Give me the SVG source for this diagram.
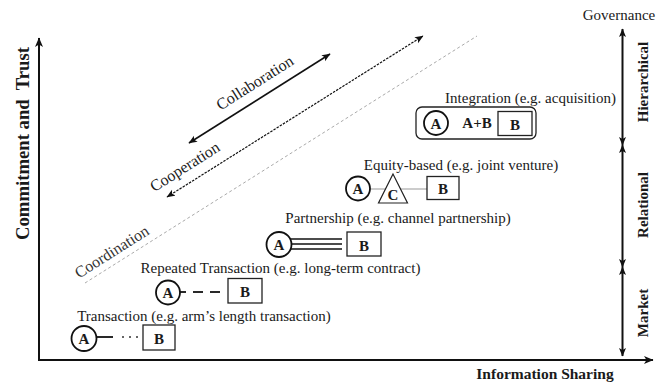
<svg xmlns="http://www.w3.org/2000/svg" width="669" height="385" viewBox="0 0 669 385">
<style>
text{font-family:"Liberation Serif","Times New Roman",serif;fill:#1a1a1a}
.lbl{font-size:15px;text-anchor:middle}
.diag{font-size:16px;text-anchor:middle}
.bold{font-weight:bold}
.ax{stroke:#111;stroke-width:2;fill:none}
.circ{fill:#fff;stroke:#111;stroke-width:1.8}
.box{fill:#fff;stroke:#222;stroke-width:1.3}
.ltr{font-size:15px;font-weight:bold;text-anchor:middle}
</style>
<defs>
<marker id="arr" markerWidth="10" markerHeight="10" refX="9" refY="4.5" orient="auto-start-reverse" markerUnits="userSpaceOnUse">
<path d="M0,0.5 L9.5,4.5 L0,8.5 L2.5,4.5 z" fill="#111"/>
</marker>
<marker id="arrs" markerWidth="9" markerHeight="9" refX="8" refY="4" orient="auto-start-reverse" markerUnits="userSpaceOnUse">
<path d="M0,0.5 L8.5,4 L0,7.5 L2,4 z" fill="#111"/>
</marker>
</defs>

<g id="axes">
<line class="ax" x1="39" y1="361" x2="39" y2="38" marker-end="url(#arr)"/>
<line class="ax" x1="38" y1="360" x2="653" y2="360" marker-end="url(#arr)"/>
<text class="bold" font-size="18" text-anchor="middle" textLength="193" lengthAdjust="spacingAndGlyphs" transform="translate(29,143.5) rotate(-90)" x="0" y="0" style="white-space:pre">Commitment and  Trust</text>
<text class="bold" font-size="15.5" text-anchor="middle" x="545" y="379">Information Sharing</text>
</g>

<g id="governance">
<text class="lbl" x="619" y="20">Governance</text>
<line class="ax" stroke-width="1.8" x1="622.5" y1="145" x2="622.5" y2="29" marker-start="url(#arrs)" marker-end="url(#arrs)"/>
<line class="ax" stroke-width="1.8" x1="622.5" y1="267" x2="622.5" y2="145" marker-start="url(#arrs)" marker-end="url(#arrs)"/>
<line class="ax" stroke-width="1.8" x1="622.5" y1="356" x2="622.5" y2="267" marker-start="url(#arrs)" marker-end="url(#arrs)"/>
<text class="lbl bold" transform="translate(648,82) rotate(-90)">Hierarchical</text>
<text class="lbl bold" transform="translate(648,205) rotate(-90)">Relational</text>
<text class="lbl bold" transform="translate(648,313) rotate(-90)">Market</text>
</g>

<g id="connectors">
<line x1="189" y1="143" x2="330" y2="54" stroke="#111" stroke-width="1.6" marker-start="url(#arrs)" marker-end="url(#arrs)"/>
<line x1="167" y1="197" x2="423" y2="36" stroke="#111" stroke-width="1.2" stroke-dasharray="2.5,1.2" marker-start="url(#arrs)" marker-end="url(#arrs)"/>
<line x1="85" y1="283" x2="477" y2="36" stroke="#aaa" stroke-width="1" stroke-dasharray="3,2.5"/>
</g>

<g id="collaboration-label"><text class="diag" transform="translate(255,83) rotate(-32.3)" y="5">Collaboration</text></g>
<g id="cooperation-label"><text class="diag" transform="translate(185,167) rotate(-32.3)" y="5">Cooperation</text></g>
<g id="coordination-label"><text class="diag" transform="translate(112,252) rotate(-32.3)" y="5" style="fill:#333">Coordination</text></g>

<g id="integration">
<text class="lbl" x="530.5" y="103">Integration (e.g. acquisition)</text>
<rect class="box" x="416" y="107" width="120" height="32" rx="6"/>
<circle class="circ" cx="436" cy="123" r="12"/>
<text class="ltr" x="436" y="128.5">A</text>
<text class="ltr" font-size="14" x="477" y="128">A+B</text>
<rect class="box" x="498" y="111.5" width="34" height="24"/>
<text class="ltr" font-size="16" x="515" y="130">B</text>
</g>

<g id="equity">
<text class="lbl" x="461" y="170">Equity-based (e.g. joint venture)</text>
<line x1="370" y1="189" x2="427" y2="189" stroke="#999" stroke-width="1"/>
<circle class="circ" cx="358" cy="188.5" r="12"/>
<text class="ltr" x="358" y="194">A</text>
<polygon points="393,174 378.5,203 407.5,203" fill="#fff" stroke="#222" stroke-width="1.2"/>
<text class="ltr" font-size="12" x="393" y="200">C</text>
<rect class="box" x="427" y="176.5" width="32" height="23"/>
<text class="ltr" font-size="16" x="443" y="194">B</text>
</g>

<g id="partnership">
<text class="lbl" x="398" y="223">Partnership (e.g. channel partnership)</text>
<line x1="289" y1="239" x2="342" y2="239" stroke="#111" stroke-width="1.6"/>
<line x1="291" y1="244" x2="342" y2="244" stroke="#111" stroke-width="1.6"/>
<line x1="289" y1="249" x2="342" y2="249" stroke="#111" stroke-width="1.6"/>
<circle class="circ" cx="279" cy="244.5" r="12.5"/>
<text class="ltr" x="279" y="250">A</text>
<rect class="box" x="347" y="232" width="34" height="24"/>
<text class="ltr" font-size="16" x="364" y="250.5">B</text>
</g>

<g id="repeated">
<text class="lbl" x="280.5" y="273">Repeated Transaction (e.g. long-term contract)</text>
<line x1="180" y1="292" x2="186" y2="292" stroke="#111" stroke-width="1.8"/>
<line x1="193" y1="292" x2="203" y2="292" stroke="#111" stroke-width="1.8"/>
<line x1="210" y1="292" x2="220" y2="292" stroke="#111" stroke-width="1.8"/>
<circle class="circ" cx="168" cy="292.5" r="12"/>
<text class="ltr" x="168" y="298">A</text>
<rect class="box" x="228" y="278.5" width="34" height="24.5"/>
<text class="ltr" font-size="16" x="245" y="297">B</text>
</g>

<g id="transaction">
<text class="lbl" x="204" y="321">Transaction (e.g. arm’s length transaction)</text>
<line x1="95" y1="337" x2="113" y2="337" stroke="#111" stroke-width="1.8"/>
<circle cx="123" cy="337" r="1" fill="#333"/>
<circle cx="130" cy="337" r="1" fill="#333"/>
<circle cx="137" cy="337" r="1" fill="#333"/>
<circle class="circ" cx="84" cy="338.5" r="12.5"/>
<text class="ltr" x="84" y="344">A</text>
<rect class="box" x="143" y="325" width="32" height="25"/>
<text class="ltr" font-size="16" x="159" y="343.5">B</text>
</g>
</svg>
